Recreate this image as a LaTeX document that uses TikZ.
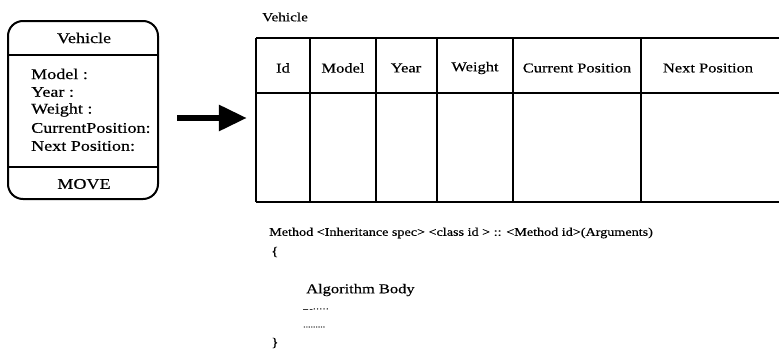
\documentclass[tikz,border=0pt]{standalone}
\usepackage{fontspec}
\setmainfont{Liberation Serif}[FakeStretch=1.22,FakeBold=0.4]
\usetikzlibrary{arrows.meta}
\begin{document}
\begin{tikzpicture}[x=1pt,y=-1pt,
  txt/.style={inner sep=0pt, font=\fontsize{13.5}{16}\selectfont},
  boxtxt/.style={inner sep=0pt, font=\fontsize{14.8}{17}\selectfont},
  small/.style={inner sep=0pt, font=\fontsize{12.5}{15}\selectfont},
  methodtxt/.style={inner sep=0pt, font=\fontsize{11.6}{14}\selectfont},
  heavy/.style={line width=2pt},
  grid/.style={line width=1.8pt},
  thin/.style={line width=1.2pt}]
\useasboundingbox (0,0) rectangle (779,356);
% class box
\node[draw, heavy, rounded corners=15pt, minimum width=150pt, minimum height=178pt, inner sep=0pt] (cls) at (83,110) {};
\node[boxtxt] (ctitle) at (84,38) {Vehicle};
\coordinate (d1l) at (8,55); \coordinate (d1r) at (158,55);
\draw[thin] (d1l) -- (d1r);
\node[boxtxt, anchor=west] (a1) at (31,74) {Model :};
\node[boxtxt, anchor=west] (a2) at (31,92) {Year :};
\node[boxtxt, anchor=west] (a3) at (31,110) {Weight :};
\node[boxtxt, anchor=west] (a4) at (31,128) {CurrentPosition:};
\node[boxtxt, anchor=west] (a5) at (31,146) {Next Position:};
\coordinate (d2l) at (8,167); \coordinate (d2r) at (158,167);
\draw[thin] (d2l) -- (d2r);
\node[boxtxt] (move) at (84,184) {MOVE};
% table
\node[inner sep=0pt, minimum width=0pt, minimum height=164pt] (tbl) at (256,118) {};
\node[small, anchor=west] (ttitle) at (262,17) {Vehicle};
\draw[grid] (256,38) -- (779,38);
\draw[grid] (256,93) -- (779,93);
\draw[grid] (256,202) -- (779,202);
\foreach \x in {256,310,376,437,513,641}{\draw[grid] (\x,38) -- (\x,202);}
\node[txt] (h1) at (283,68) {Id};
\node[txt] (h2) at (343,68) {Model};
\node[txt] (h3) at (406,68) {Year};
\node[txt] (h4) at (475,68) {Weight};
\node[txt] (h5) at (577,68) {Current Position};
\node[txt] (h6) at (708,68) {Next Position};
% arrow
\coordinate (as) at (177,118);
\draw[line width=6pt, -{Triangle[length=28pt,width=25pt]}, shorten >=9pt] (as) -- (tbl.west);
% method text
\node[methodtxt, anchor=west] (m1) at (269,233) {Method <Inheritance spec> <class id > :: <Method id>(Arguments)};
\node[small, anchor=west] (m2) at (271,252) {\{};
\node[txt, anchor=west] (m3) at (306,290) {Algorithm Body};
\node[small, anchor=west] (m4) at (303,310) {\fontsize{8}{9}\selectfont --\,-·····};
\node[small, anchor=west] (m5) at (303,327) {\fontsize{8}{9}\selectfont .........};
\node[small, anchor=west] (m6) at (271,343) {\}};
\end{tikzpicture}
\end{document}
